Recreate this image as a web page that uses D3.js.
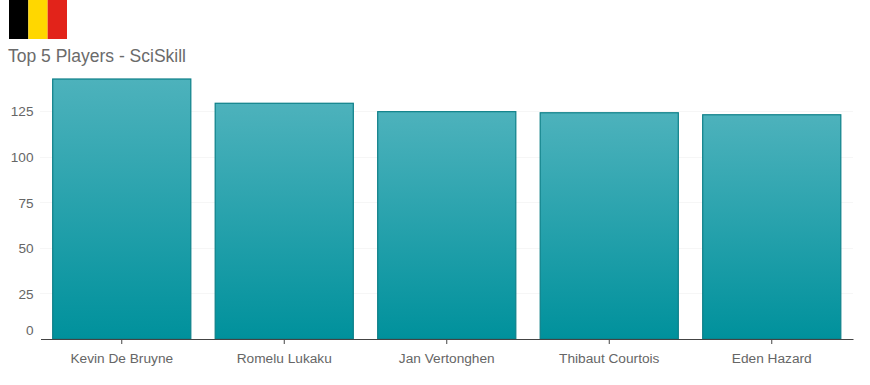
<!DOCTYPE html>
<html>
<head>
<meta charset="utf-8">
<script src="https://cdnjs.cloudflare.com/ajax/libs/d3/7.8.5/d3.min.js"></script>
<style>
  html, body { margin: 0; padding: 0; background: #fff; }
  svg { display: block; font-family: "Liberation Sans", Arial, sans-serif; }
</style>
</head>
<body>
<div id="chart"></div>
<script>
const players = ['Kevin De Bruyne', 'Romelu Lukaku', 'Jan Vertonghen', 'Thibaut Courtois', 'Eden Hazard'];
const sciSkill = [142.5, 129.2, 124.6, 124.0, 122.9];
const yTicks = [0, 25, 50, 75, 100, 125];
const flagColors = ['#000000', '#ffd700', '#e2231a'];
const chartTitle = 'Top 5 Players - SciSkill';

const width = 870;
const height = 385;
const MARGIN = { top: 79, right: 17, bottom: 46, left: 40.5 };
const innerW = width - MARGIN.left - MARGIN.right;
const innerH = height - MARGIN.top - MARGIN.bottom;

const svg = d3.select('#chart').append('svg')
  .attr('width', width)
  .attr('height', height);

// Bar fill fades from a lighter teal at the top to solid at the baseline
const gradient = svg.append('defs').append('linearGradient')
  .attr('id', 'barFill')
  .attr('x1', 0).attr('y1', 0).attr('x2', 0).attr('y2', 1);
gradient.append('stop').attr('offset', '0%').attr('stop-color', '#4db2bc');
gradient.append('stop').attr('offset', '100%').attr('stop-color', '#00919c');

// Flag
const flagX = d3.scaleBand().domain(flagColors).range([9, 67]);
svg.append('g').selectAll('rect')
  .data(flagColors)
  .join('rect')
  .attr('x', d => flagX(d))
  .attr('y', 0)
  .attr('width', flagX.bandwidth())
  .attr('height', 39)
  .attr('fill', d => d);

svg.append('text')
  .attr('x', 8)
  .attr('y', 62)
  .style('font-size', '17.5px')
  .style('fill', '#6b6b6b')
  .text(chartTitle);

const g = svg.append('g').attr('transform', `translate(${MARGIN.left},${MARGIN.top})`);

const xScale = d3.scaleBand().domain(players).range([0, innerW]).paddingInner(0.15).paddingOuter(0.075);
const yScale = d3.scaleLinear().domain([0, 142.5]).range([innerH, 0]);

// Grid
g.append('g')
  .selectAll('line')
  .data(yTicks.filter(d => d > 0))
  .join('line')
  .attr('x1', 0)
  .attr('x2', innerW)
  .attr('y1', d => Math.round(yScale(d)) + 0.5)
  .attr('y2', d => Math.round(yScale(d)) + 0.5)
  .style('stroke', '#ececec')
  .style('stroke-dasharray', '1,1');

// Bars
g.append('g')
  .selectAll('rect')
  .data(players)
  .join('rect')
  .attr('x', d => xScale(d))
  .attr('y', (d, i) => yScale(sciSkill[i]))
  .attr('width', xScale.bandwidth())
  .attr('height', (d, i) => innerH - yScale(sciSkill[i]))
  .attr('fill', 'url(#barFill)')
  .attr('stroke', '#0c7f88')
  .attr('stroke-width', 1.2);

// Axes
const xAxisG = g.append('g')
  .attr('transform', `translate(0,${innerH})`)
  .call(d3.axisBottom(xScale).tickSize(5).tickPadding(9).tickSizeOuter(0));
xAxisG.select('.domain').style('stroke', '#444');
xAxisG.selectAll('line').style('stroke', '#444');
xAxisG.selectAll('text')
  .style('font-family', '"Liberation Sans", Arial, sans-serif')
  .style('font-size', '13.7px')
  .style('fill', '#666');

const yAxisG = g.append('g')
  .call(d3.axisLeft(yScale).tickValues(yTicks).tickSize(0).tickPadding(7));
yAxisG.select('.domain').remove();
yAxisG.selectAll('text')
  .style('font-family', '"Liberation Sans", Arial, sans-serif')
  .style('font-size', '13.6px')
  .style('fill', '#666')
  // the zero label sits above the baseline in the original
  .attr('y', d => (d === 0 ? -9 : 0.5));
</script>
</body>
</html>
